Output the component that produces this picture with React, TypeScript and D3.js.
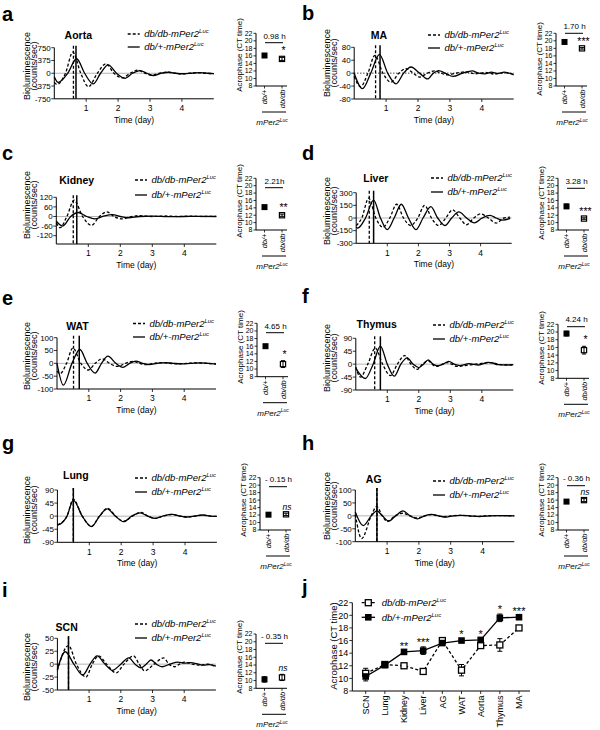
import React from 'react';
import * as d3 from 'd3';

type Pt = [number, number];
const FONT = "'Liberation Sans', Arial, Helvetica, sans-serif";

// ---------- Bioluminescence traces (day, counts/sec) ----------
const aortaDbDb: Pt[] = [[0,-270],[0.08,-330],[0.35,0],[0.58,620],[0.83,0],[1.07,-394],[1.35,0],[1.62,278],[1.87,0],[2.13,-136],[2.38,0],[2.62,90],[2.84,0],[3.05,-60],[3.3,0],[3.55,30],[3.78,0],[4.0,-20],[4.25,0],[4.5,15],[4.75,0],[5.0,-10]];
const aortaHet: Pt[] = [[0,-100],[0.12,-270],[0.42,0],[0.7,426],[0.95,0],[1.22,-314],[1.45,0],[1.69,248],[1.95,0],[2.22,-148],[2.45,0],[2.69,80],[2.9,0],[3.11,-68],[3.35,0],[3.6,30],[3.8,0],[4.05,-15],[4.3,0],[4.55,20],[4.8,0],[5.0,-10]];
const maDbDb: Pt[] = [[0,-10],[0.2,-42],[0.43,0],[0.65,55],[0.9,0],[1.15,-28],[1.4,0],[1.62,14],[1.85,0],[2.05,-12],[2.3,0],[2.52,7],[2.72,0],[2.9,-5],[3.2,0],[3.5,4],[3.8,-2],[4.1,2],[4.4,-3],[4.7,2],[5.0,-4]];
const maHet: Pt[] = [[0,0],[0.26,-48],[0.52,0],[0.79,58],[1.05,0],[1.31,-33],[1.55,0],[1.78,19],[2.05,0],[2.3,-18],[2.48,0],[2.65,8],[2.85,0],[3.1,-10],[3.4,0],[3.7,7],[3.9,0],[4.1,-2],[4.3,3],[4.5,-1],[4.7,3],[4.85,0],[5.0,-5]];
const kidneyDbDb: Pt[] = [[0,-40],[0.12,-70],[0.33,0],[0.56,102],[0.82,0],[1.1,-55],[1.35,0],[1.58,29],[1.8,0],[2.05,-15],[2.3,-2],[2.6,5],[3.0,0],[3.4,3],[3.8,0],[4.2,2],[4.6,0],[5.0,1]];
const kidneyHet: Pt[] = [[0,-30],[0.2,-60],[0.45,0],[0.68,25],[0.95,0],[1.2,-15],[1.45,0],[1.75,12],[2.0,0],[2.25,-8],[2.6,0],[3.0,2],[3.5,-1],[4.0,0],[4.5,1],[5.0,0]];
const liverDbDb: Pt[] = [[0,-90],[0.18,0],[0.4,236],[0.63,0],[0.86,-110],[1.08,0],[1.3,163],[1.52,0],[1.75,-89],[1.98,0],[2.2,150],[2.42,0],[2.65,-89],[2.88,0],[3.1,97],[3.33,0],[3.55,-80],[3.78,0],[4.0,48],[4.25,0],[4.5,-60],[4.75,0],[4.95,10]];
const liverHet: Pt[] = [[0,-110],[0.05,-120],[0.3,0],[0.56,213],[0.78,0],[1.0,-138],[1.22,0],[1.45,163],[1.68,0],[1.92,-138],[2.15,0],[2.4,134],[2.62,0],[2.85,-89],[3.07,0],[3.3,73],[3.55,0],[3.8,-58],[4.05,0],[4.3,30],[4.5,0],[4.7,-25],[4.95,-5]];
const watDbDb: Pt[] = [[0,-30],[0.1,-40],[0.3,0],[0.5,60],[0.75,0],[0.98,-26],[1.2,0],[1.42,18],[1.65,0],[1.9,-12],[2.15,0],[2.38,8],[2.6,0],[2.8,-5],[3.05,0],[3.3,3],[3.55,0],[3.8,-2],[4.1,0],[4.4,2],[4.7,0],[5.0,-2]];
const watHet: Pt[] = [[0,0],[0.2,-85],[0.47,0],[0.72,54],[0.95,0],[1.2,-38],[1.4,0],[1.6,28],[1.85,0],[2.07,-16],[2.28,0],[2.48,9],[2.7,0],[2.9,-5],[3.15,0],[3.4,3],[3.65,0],[3.9,-2],[4.2,0],[4.5,2],[4.75,0],[5.0,-3]];
const thymusDbDb: Pt[] = [[0,-10],[0.15,-45],[0.38,0],[0.62,56],[0.85,0],[1.1,-40],[1.32,0],[1.55,30],[1.75,0],[1.95,-18],[2.12,0],[2.3,12],[2.42,0],[2.55,-8],[2.75,0],[2.9,5],[3.05,0],[3.2,-8],[3.6,-3],[4.0,3],[4.3,5],[4.6,-2],[5.0,-3]];
const thymusHet: Pt[] = [[0,-15],[0.3,-50],[0.55,0],[0.78,63],[1.0,0],[1.22,-42],[1.43,0],[1.63,22],[1.82,0],[2.0,-12],[2.15,0],[2.3,15],[2.45,0],[2.6,-6],[2.78,0],[2.95,10],[3.12,0],[3.3,-5],[3.6,2],[3.9,-3],[4.2,6],[4.35,4],[4.5,-2],[4.8,-3],[5.0,-2]];
const lungDbDb: Pt[] = [[0,-28],[0.05,-27],[0.3,0],[0.5,58],[0.78,0],[1.06,-35],[1.32,0],[1.57,27],[1.83,0],[2.08,-18],[2.35,0],[2.62,13],[2.85,0],[3.07,-8],[3.32,0],[3.6,6],[3.85,0],[4.05,-3],[4.3,0],[4.55,4],[4.8,0],[5.0,-1]];
const lungHet: Pt[] = [[0,-30],[0.05,-29],[0.3,0],[0.5,54],[0.78,0],[1.07,-36],[1.32,0],[1.56,25],[1.82,0],[2.07,-19],[2.33,0],[2.6,11],[2.83,0],[3.05,-8],[3.3,0],[3.6,6],[3.85,0],[4.05,-3],[4.3,0],[4.55,4],[4.8,0],[5.0,-1]];
const agDbDb: Pt[] = [[0,5],[0.2,-88],[0.5,0],[0.67,36],[0.85,0],[1.0,-22],[1.25,0],[1.5,10],[1.72,0],[1.95,-8],[2.2,0],[2.4,5],[2.6,0],[2.8,-3],[3.05,0],[3.3,2],[3.55,0],[3.8,-2],[4.1,0],[4.4,1],[5.0,0]];
const agHet: Pt[] = [[0,15],[0.25,-38],[0.5,0],[0.68,19],[0.85,0],[1.05,-20],[1.27,0],[1.5,19],[1.72,0],[1.95,-12],[2.18,0],[2.4,6],[2.62,0],[2.85,-5],[3.08,0],[3.3,2],[3.6,0],[3.9,-3],[4.2,0],[4.5,1],[5.0,0]];
const scnDbDb: Pt[] = [[0,-12],[0.35,36],[0.6,0],[0.9,-25],[1.1,0],[1.3,16],[1.55,0],[1.85,-17],[2.1,0],[2.4,16],[2.58,0],[2.75,-13],[3.05,0],[3.35,12],[3.52,0],[3.7,-5],[3.85,0],[4.0,4],[4.25,0],[4.5,-2],[4.75,0],[5.0,-5]];
const scnHet: Pt[] = [[0,-10],[0.25,24],[0.52,0],[0.8,-21],[1.03,0],[1.25,16],[1.5,0],[1.73,-12],[2.0,0],[2.25,12],[2.45,0],[2.63,-7],[2.8,0],[2.95,8],[3.12,0],[3.3,-5],[3.55,0],[3.8,4],[4.0,2],[4.2,3],[4.45,0],[4.6,-2],[4.8,-1],[5.0,-4]];

// ---------- Acrophase summary (CT time) ----------
const tissues = ['SCN', 'Lung', 'Kidney', 'Liver', 'AG', 'WAT', 'Aorta', 'Thymus', 'MA'];
const acroHet = [10.3, 12.1, 14.2, 14.4, 15.6, 16.0, 16.1, 19.6, 19.7];
const acroHetErr = [0.7, 0.2, 0.2, 0.6, 0.2, 0.2, 0.2, 0.6, 0.2];
const acroDbDb = [10.8, 12.2, 12.0, 11.1, 16.0, 11.3, 15.2, 15.3, 18.0];
const acroDbDbErr = [0.8, 0.3, 0.3, 0.2, 0.4, 0.9, 0.4, 1.0, 0.2];
const acroSig = ['ns', 'ns', '**', '***', 'ns', '*', '*', '*', '***'];
const phaseDiff = ['- 0.35 h', '- 0.15 h', '2.21h', '3.28 h', '- 0.36 h', '4.65 h', '0.98 h', '4.24 h', '1.70 h'];
const acroTicks = [8, 10, 12, 14, 16, 18, 20, 22];
const dayTicks = [1, 2, 3, 4];

// ---------- Panels a–i ----------
const panelLetters = ['a', 'b', 'c', 'd', 'e', 'f', 'g', 'h', 'i'];
const panelTissue = ['Aorta', 'MA', 'Kidney', 'Liver', 'WAT', 'Thymus', 'Lung', 'AG', 'SCN'];
const panelDbDb = [aortaDbDb, maDbDb, kidneyDbDb, liverDbDb, watDbDb, thymusDbDb, lungDbDb, agDbDb, scnDbDb];
const panelHet = [aortaHet, maHet, kidneyHet, liverHet, watHet, thymusHet, lungHet, agHet, scnHet];
const panelYTicks = [
  [-750, -375, 0, 375, 750], [-80, -40, 0, 40, 80], [-120, -60, 0, 60, 120],
  [-300, -150, 0, 150, 300], [-100, -50, 0, 50, 100], [-90, -45, 0, 45, 90],
  [-90, -45, 0, 45, 90], [-100, -50, 0, 50, 100], [-50, -25, 0, 25, 50],
];
const panelYMin = [-750, -80, -172, -300, -100, -90, -90, -100, -50];
const phaseLineDbDb = [0.6, 0.67, 0.53, 0.42, 0.52, 0.6, 0.5, 0.68, 0.35];
const phaseLineHet = [0.68, 0.81, 0.64, 0.56, 0.7, 0.78, 0.5, 0.68, 0.35];

// layout (pixels) – kept apart from the data
const LAYOUT = [
  { ox: 0, letterY: 21, x0: 54.3, pxd: 31.9, yTop: 47.7, yBot: 98.8, titleX: 78.3, titleY: 38.5, legX: 127.7, legY1: 34, legY2: 47, ylabCY: 66, acroX: 256, acroTop: 33.3, acroBot: 86, brY: 42.7, brTextY: 38.5, acroLabCY: 55, dotted: false },
  { ox: 300, letterY: 20, x0: 354.2, pxd: 31.9, yTop: 47.3, yBot: 99, titleX: 379, titleY: 38.5, legX: 428, legY1: 35, legY2: 48, ylabCY: 63, acroX: 556, acroTop: 33.3, acroBot: 86, brY: 33.3, brTextY: 28.5, acroLabCY: 59, dotted: true },
  { ox: 0, letterY: 160, x0: 56.3, pxd: 32, yTop: 197.3, yBot: 244, titleX: 76.7, titleY: 183.5, legX: 135, legY1: 180, legY2: 195, ylabCY: 205, acroX: 256, acroTop: 178.3, acroBot: 230, brY: 187.7, brTextY: 183.5, acroLabCY: 201, dotted: false },
  { ox: 300, letterY: 160, x0: 356.2, pxd: 31.1, yTop: 192.7, yBot: 243.3, titleX: 375.8, titleY: 181.5, legX: 431, legY1: 178, legY2: 192, ylabCY: 211, acroX: 558, acroTop: 178.3, acroBot: 230, brY: 188.3, brTextY: 184, acroLabCY: 203, dotted: false },
  { ox: 0, letterY: 305, x0: 57, pxd: 31.8, yTop: 337.7, yBot: 389, titleX: 77.5, titleY: 330, legX: 133, legY1: 323.5, legY2: 337, ylabCY: 356, acroX: 257, acroTop: 323.3, acroBot: 376.7, brY: 332.7, brTextY: 328.5, acroLabCY: 347, dotted: false },
  { ox: 300, letterY: 303, x0: 355.8, pxd: 31.5, yTop: 338.3, yBot: 390, titleX: 376.7, titleY: 328, legX: 433, legY1: 325, legY2: 339, ylabCY: 358, acroX: 558, acroTop: 324.3, acroBot: 378.3, brY: 326.7, brTextY: 322, acroLabCY: 348, dotted: false },
  { ox: 0, letterY: 450, x0: 57.4, pxd: 31.9, yTop: 490, yBot: 542.3, titleX: 75.8, titleY: 479, legX: 135, legY1: 478, legY2: 492, ylabCY: 510, acroX: 260, acroTop: 477.7, acroBot: 530, brY: 486.7, brTextY: 482, acroLabCY: 500, dotted: false },
  { ox: 300, letterY: 450, x0: 355.3, pxd: 31.8, yTop: 490, yBot: 541.7, titleX: 373.7, titleY: 483.3, legX: 433, legY1: 481, legY2: 495, ylabCY: 506, acroX: 558, acroTop: 477.7, acroBot: 530, brY: 485.7, brTextY: 481, acroLabCY: 500, dotted: false },
  { ox: 0, letterY: 597, x0: 57.4, pxd: 31.7, yTop: 638.3, yBot: 690, titleX: 66.7, titleY: 631, legX: 135, legY1: 624, legY2: 638, ylabCY: 667, acroX: 256, acroTop: 634, acroBot: 688.3, brY: 643.3, brTextY: 639, acroLabCY: 657, dotted: false },
];

const J = { letterX: 302, letterY: 594, axX: 352.3, top: 602.7, bot: 691, xEnd: 530, catL: 365.7, catR: 519, labX: 337, labCY: 646, legX: 361.7, legY1: 602.7, legY2: 617.3 };

const GENO_DBDB = 'db/db-mPer2';
const GENO_HET = 'db/+-mPer2';
const SUP = 'Luc';

function SupText({ x, y, base, size, anchor = 'start', italic = true }: any) {
  return (
    <text x={x} y={y} fontSize={size} fontStyle={italic ? 'italic' : 'normal'} textAnchor={anchor} fontFamily={FONT}>
      {base}
      <tspan fontSize={size * 0.62} dy={-size * 0.42}>{SUP}</tspan>
    </text>
  );
}

function AcroSub({ idx }: { idx: number }) {
  const L = LAYOUT[idx];
  const ti = tissues.indexOf(panelTissue[idx]);
  const ay = d3.scaleLinear().domain([8, 22]).range([L.acroBot, L.acroTop]);
  const ax = L.acroX;
  const cx1 = ax + 8.5;
  const cx2 = ax + 26;
  const h = acroHet[ti], he = acroHetErr[ti], d = acroDbDb[ti], de = acroDbDbErr[ti];
  const sig = acroSig[ti];
  const dbTop = ay(d + de);
  return (
    <g fontFamily={FONT}>
      <line x1={ax} x2={ax} y1={L.acroTop} y2={L.acroBot} stroke="#000" strokeWidth={1} />
      <line x1={ax} x2={ax + 31} y1={L.acroBot} y2={L.acroBot} stroke="#000" strokeWidth={1} />
      {acroTicks.map((t) => (
        <g key={t}>
          <line x1={ax - 2.5} x2={ax} y1={ay(t)} y2={ay(t)} stroke="#000" strokeWidth={0.8} />
          <text x={ax - 3.5} y={ay(t) + 2.4} fontSize={7} textAnchor="end">{t}</text>
        </g>
      ))}
      {[cx1, cx2].map((c, k) => (
        <line key={k} x1={c} x2={c} y1={L.acroBot} y2={L.acroBot + 2.5} stroke="#000" strokeWidth={0.8} />
      ))}
      <text transform={`translate(${ax - 14.5},${L.acroLabCY}) rotate(-90)`} fontSize={8} textAnchor="middle">Acrophase (CT time)</text>
      {/* points */}
      <line x1={cx1} x2={cx1} y1={ay(h - he)} y2={ay(h + he)} stroke="#000" strokeWidth={1} />
      <line x1={cx1 - 2} x2={cx1 + 2} y1={ay(h + he)} y2={ay(h + he)} stroke="#000" strokeWidth={1} />
      <line x1={cx1 - 2} x2={cx1 + 2} y1={ay(h - he)} y2={ay(h - he)} stroke="#000" strokeWidth={1} />
      <rect x={cx1 - 3} y={ay(h) - 3} width={6} height={6} fill="#000" />
      <line x1={cx2} x2={cx2} y1={ay(d - de)} y2={ay(d + de)} stroke="#000" strokeWidth={1} />
      <line x1={cx2 - 2} x2={cx2 + 2} y1={ay(d + de)} y2={ay(d + de)} stroke="#000" strokeWidth={1} />
      <line x1={cx2 - 2} x2={cx2 + 2} y1={ay(d - de)} y2={ay(d - de)} stroke="#000" strokeWidth={1} />
      <rect x={cx2 - 2.6} y={ay(d) - 2.6} width={5.2} height={5.2} fill="none" stroke="#000" strokeWidth={1.2} />
      {/* significance */}
      {sig === 'ns' ? (
        <text x={cx2 + 1} y={dbTop - 3.5} fontSize={8.5} fontStyle="italic" textAnchor="middle">ns</text>
      ) : (
        <text x={cx2 + 1.5} y={dbTop - 3} fontSize={10.5} textAnchor="middle">{sig}</text>
      )}
      {/* bracket */}
      <line x1={ax + 9} x2={ax + 27} y1={L.brY} y2={L.brY} stroke="#000" strokeWidth={1} />
      <text x={ax + 18.5} y={L.brTextY} fontSize={8} textAnchor="middle">{phaseDiff[ti]}</text>
      {/* categories */}
      <text transform={`translate(${cx1 + 2.5},${L.acroBot + 3.5}) rotate(-90)`} fontSize={7.5} fontStyle="italic" textAnchor="end">db/+</text>
      <text transform={`translate(${cx2 + 2.5},${L.acroBot + 3.5}) rotate(-90)`} fontSize={7.5} fontStyle="italic" textAnchor="end">db/db</text>
      <line x1={ax + 6} x2={ax + 30} y1={L.acroBot + 26} y2={L.acroBot + 26} stroke="#000" strokeWidth={1} />
      <SupText x={ax + 16} y={L.acroBot + 39} base="mPer2" size={8} anchor="middle" />
    </g>
  );
}

function TracePanel({ idx }: { idx: number }) {
  const L = LAYOUT[idx];
  const ticks = panelYTicks[idx];
  const yMax = ticks[ticks.length - 1];
  const x = d3.scaleLinear().domain([0, 5]).range([L.x0, L.x0 + 5 * L.pxd]);
  const y = d3.scaleLinear().domain([panelYMin[idx], yMax]).range([L.yBot, L.yTop]);
  const line = d3.line<Pt>().x((p) => x(p[0])).y((p) => y(p[1])).curve(d3.curveMonotoneX);
  const xEnd = x(5);
  const vTop = L.yTop - 2;
  return (
    <g fontFamily={FONT}>
      <text x={L.ox + 2} y={L.letterY} fontSize={20} fontWeight="bold">{panelLetters[idx]}</text>
      {/* zero line */}
      {L.dotted ? (
        <line x1={L.x0} x2={xEnd} y1={y(0)} y2={y(0)} stroke="#000" strokeWidth={0.9} strokeDasharray="1.2,1.8" />
      ) : (
        <line x1={L.x0} x2={xEnd} y1={y(0)} y2={y(0)} stroke="#b5b5b5" strokeWidth={1} />
      )}
      {/* traces */}
      <path d={line(panelHet[idx]) || ''} fill="none" stroke="#000" strokeWidth={1.3} />
      <path d={line(panelDbDb[idx]) || ''} fill="none" stroke="#000" strokeWidth={1.3} strokeDasharray="3,2" />
      {/* phase lines */}
      <line x1={x(phaseLineHet[idx])} x2={x(phaseLineHet[idx])} y1={vTop} y2={L.yBot} stroke="#000" strokeWidth={1.5} />
      <line x1={x(phaseLineDbDb[idx])} x2={x(phaseLineDbDb[idx])} y1={vTop} y2={L.yBot} stroke="#000" strokeWidth={1.3} strokeDasharray="3,2" />
      {/* axes */}
      <line x1={L.x0} x2={L.x0} y1={L.yTop} y2={L.yBot} stroke="#000" strokeWidth={1} />
      <line x1={L.x0} x2={xEnd} y1={L.yBot} y2={L.yBot} stroke="#000" strokeWidth={1} />
      {ticks.map((t) => (
        <g key={t}>
          <line x1={L.x0 - 3} x2={L.x0} y1={y(t)} y2={y(t)} stroke="#000" strokeWidth={0.8} />
          <text x={L.x0 - 3.5} y={y(t) + 2.8} fontSize={8} textAnchor="end">{String(t)}</text>
        </g>
      ))}
      {dayTicks.map((t) => (
        <g key={t}>
          <line x1={x(t)} x2={x(t)} y1={L.yBot} y2={L.yBot + 3} stroke="#000" strokeWidth={0.8} />
          <text x={x(t)} y={L.yBot + 12.2} fontSize={8.5} textAnchor="middle">{t}</text>
        </g>
      ))}
      <text x={(L.x0 + xEnd) / 2} y={L.yBot + 24} fontSize={8.5} textAnchor="middle">Time (day)</text>
      <text transform={`translate(${L.ox + 29.5},${L.ylabCY}) rotate(-90)`} fontSize={9} textAnchor="middle">Bioluminescence</text>
      <text transform={`translate(${L.ox + 36.5},${L.ylabCY}) rotate(-90)`} fontSize={9} textAnchor="middle">(counts/sec)</text>
      {/* title and legend */}
      <text x={L.titleX} y={L.titleY} fontSize={10.5} fontWeight="bold" textAnchor="middle">{panelTissue[idx]}</text>
      <line x1={L.legX} x2={L.legX + 12} y1={L.legY1} y2={L.legY1} stroke="#000" strokeWidth={1.3} strokeDasharray="3,2" />
      <SupText x={L.legX + 16.5} y={L.legY1 + 3.2} base={GENO_DBDB} size={9.5} />
      <line x1={L.legX} x2={L.legX + 12} y1={L.legY2} y2={L.legY2} stroke="#000" strokeWidth={1.3} />
      <SupText x={L.legX + 16.5} y={L.legY2 + 3.2} base={GENO_HET} size={9.5} />
      <AcroSub idx={idx} />
    </g>
  );
}

function PanelJ() {
  const y = d3.scaleLinear().domain([8, 22]).range([J.bot, J.top]);
  const x = d3.scalePoint<string>().domain(tissues).range([J.catL, J.catR]);
  const het = tissues.map((t, i) => [x(t) as number, acroHet[i]] as Pt);
  const dbdb = tissues.map((t, i) => [x(t) as number, acroDbDb[i]] as Pt);
  const ln = d3.line<Pt>().x((p) => p[0]).y((p) => y(p[1]));
  const eb = (cx: number, v: number, e: number, k: string) => (
    <g key={k}>
      <line x1={cx} x2={cx} y1={y(v - e)} y2={y(v + e)} stroke="#000" strokeWidth={1} />
      <line x1={cx - 2.5} x2={cx + 2.5} y1={y(v + e)} y2={y(v + e)} stroke="#000" strokeWidth={1} />
      <line x1={cx - 2.5} x2={cx + 2.5} y1={y(v - e)} y2={y(v - e)} stroke="#000" strokeWidth={1} />
    </g>
  );
  return (
    <g fontFamily={FONT}>
      <text x={J.letterX} y={J.letterY} fontSize={20} fontWeight="bold">j</text>
      <line x1={J.axX} x2={J.axX} y1={J.top} y2={J.bot} stroke="#000" strokeWidth={1} />
      <line x1={J.axX} x2={J.xEnd} y1={J.bot} y2={J.bot} stroke="#000" strokeWidth={1} />
      {acroTicks.map((t) => (
        <g key={t}>
          <line x1={J.axX - 3} x2={J.axX} y1={y(t)} y2={y(t)} stroke="#000" strokeWidth={0.8} />
          <text x={J.axX - 4} y={y(t) + 3.2} fontSize={9} textAnchor="end">{t}</text>
        </g>
      ))}
      {tissues.map((t) => (
        <g key={t}>
          <line x1={x(t)} x2={x(t)} y1={J.bot} y2={J.bot + 3} stroke="#000" strokeWidth={0.8} />
          <text transform={`translate(${(x(t) as number) + 3.2},${J.bot + 4.5}) rotate(-90)`} fontSize={9} textAnchor="end">{t}</text>
        </g>
      ))}
      <text transform={`translate(${J.labX},${J.labCY}) rotate(-90)`} fontSize={9.5} textAnchor="middle">Acrophase (CT time)</text>
      <path d={ln(dbdb) || ''} fill="none" stroke="#000" strokeWidth={1.3} strokeDasharray="3,2.2" />
      <path d={ln(het) || ''} fill="none" stroke="#000" strokeWidth={1.3} />
      {tissues.map((t, i) => eb(x(t) as number, acroDbDb[i], acroDbDbErr[i], 'd' + i))}
      {tissues.map((t, i) => eb(x(t) as number, acroHet[i], acroHetErr[i], 'h' + i))}
      {dbdb.map((p, i) => (
        <rect key={'o' + i} x={p[0] - 3} y={y(p[1]) - 3} width={6} height={6} fill="#fff" stroke="#000" strokeWidth={1.3} />
      ))}
      {het.map((p, i) => (
        <rect key={'f' + i} x={p[0] - 3.3} y={y(p[1]) - 3.3} width={6.6} height={6.6} fill="#000" />
      ))}
      {tissues.map((t, i) => {
        const s = acroSig[i];
        if (s === 'ns') return null;
        const top = Math.min(y(acroHet[i] + acroHetErr[i]), y(acroDbDb[i] + acroDbDbErr[i]));
        return <text key={'s' + i} x={x(t)} y={top - 1} fontSize={11} textAnchor="middle">{s}</text>;
      })}
      {/* legend */}
      <line x1={J.legX} x2={J.legX + 13.3} y1={J.legY1} y2={J.legY1} stroke="#000" strokeWidth={1.3} strokeDasharray="3,2" />
      <rect x={J.legX + 6.6 - 3} y={J.legY1 - 3} width={6} height={6} fill="#fff" stroke="#000" strokeWidth={1.3} />
      <SupText x={J.legX + 20} y={J.legY1 + 3.3} base={GENO_DBDB} size={9.5} />
      <line x1={J.legX} x2={J.legX + 13.3} y1={J.legY2} y2={J.legY2} stroke="#000" strokeWidth={1.3} />
      <rect x={J.legX + 6.6 - 3.3} y={J.legY2 - 3.3} width={6.6} height={6.6} fill="#000" />
      <SupText x={J.legX + 20} y={J.legY2 + 3.3} base={GENO_HET} size={9.5} />
    </g>
  );
}

export default function App() {
  return (
    <svg width={600} height={730} viewBox="0 0 600 730" style={{ position: 'absolute', left: 0, top: 0, background: '#fff' }}>
      <rect x={0} y={0} width={600} height={730} fill="#fff" />
      {LAYOUT.map((_, i) => <TracePanel key={i} idx={i} />)}
      <PanelJ />
    </svg>
  );
}
